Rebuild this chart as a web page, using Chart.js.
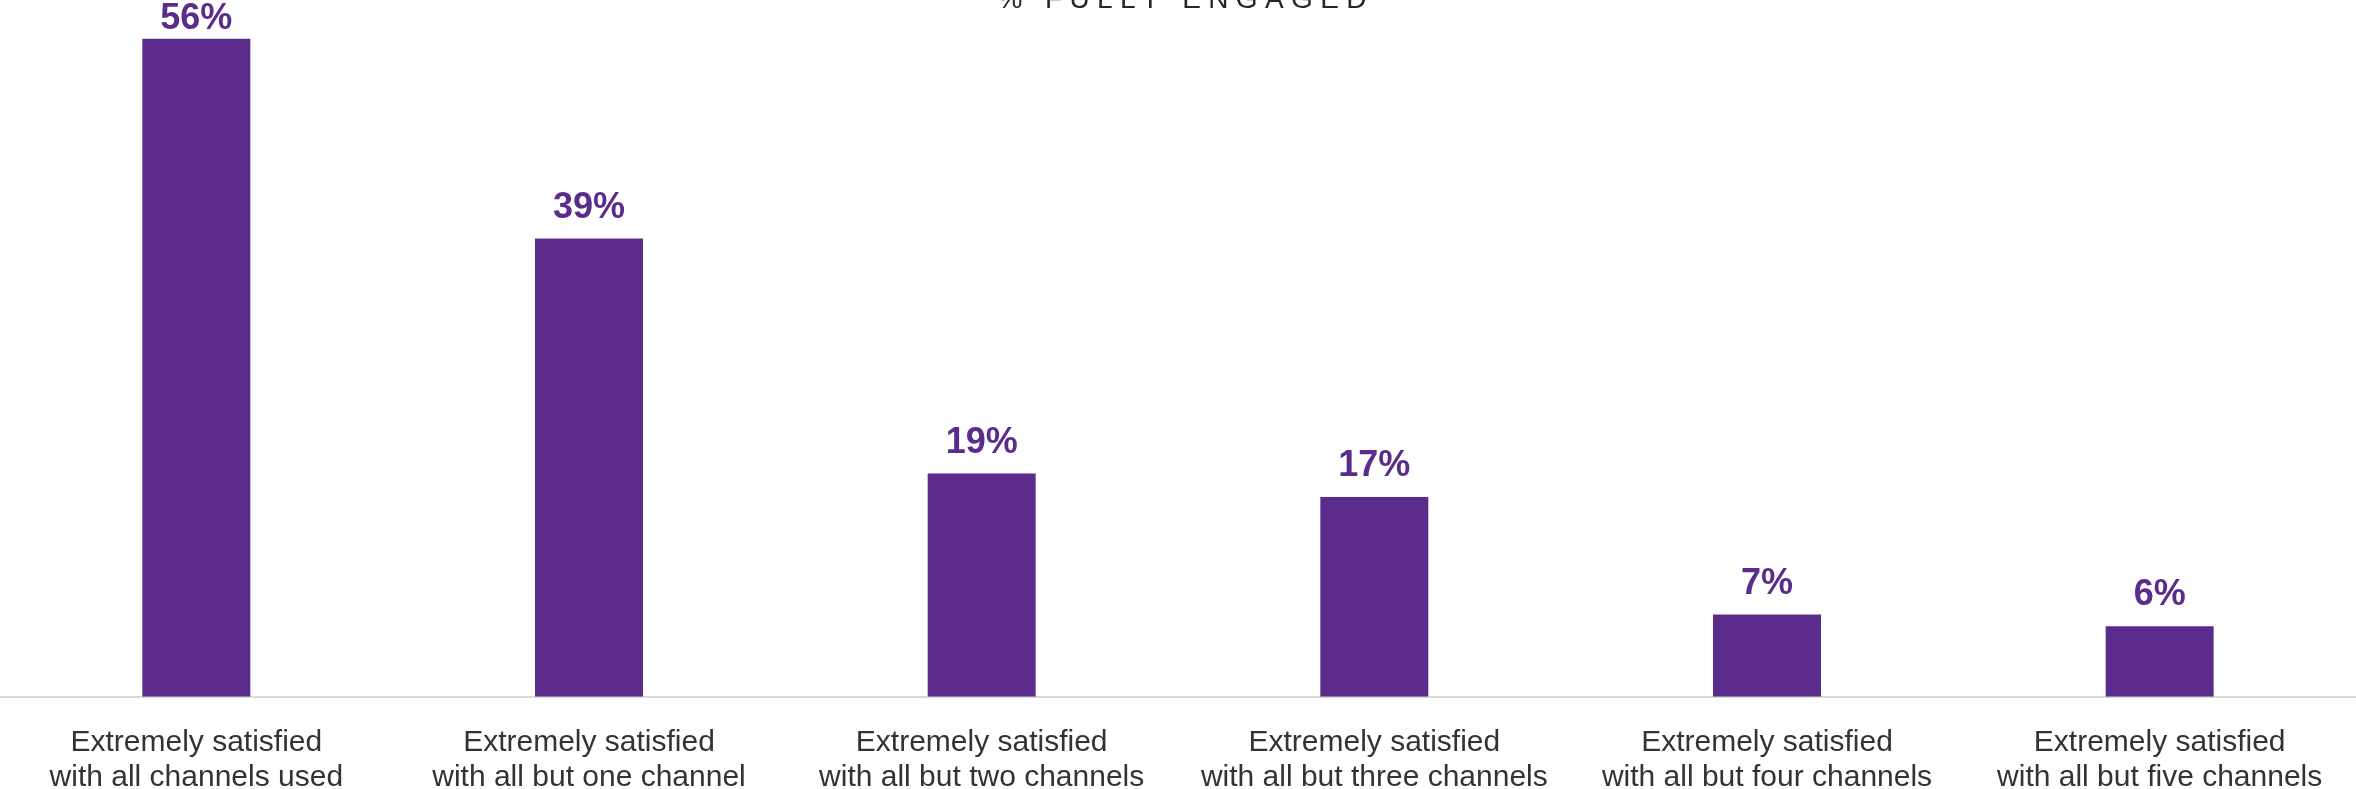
<!DOCTYPE html>
<html>
<head>
<meta charset="utf-8">
<script src="https://cdn.jsdelivr.net/npm/chart.js@4/dist/chart.umd.min.js"></script>
<style>
  html, body { margin: 0; padding: 0; background: #fff; overflow: hidden; }
  /* canvas is a bit taller than the window: the last label line runs off the bottom like in the source */
  #wrap { position: relative; width: 2356px; height: 823px; }
</style>
</head>
<body>
<div id="wrap"><canvas id="engagedChart"></canvas></div>
<script>
// Categories (two-line labels)
const categories = [
    ['Extremely satisfied', 'with all channels used'],
    ['Extremely satisfied', 'with all but one channel'],
    ['Extremely satisfied', 'with all but two channels'],
    ['Extremely satisfied', 'with all but three channels'],
    ['Extremely satisfied', 'with all but four channels'],
    ['Extremely satisfied', 'with all but five channels']
];
// % fully engaged
const engaged = [56, 39, 19, 17, 7, 6];
const chartTitle = '% FULLY ENGAGED';

const purple = '#5b2c8b';

// draws the value above each bar (kept inside the page at the top)
const valueLabels = {
    id: 'valueLabels',
    afterDatasetsDraw(chart) {
        const ctx = chart.ctx;
        const meta = chart.getDatasetMeta(0);
        ctx.save();
        ctx.font = 'bold 36px "Liberation Sans", Arial, sans-serif';
        ctx.fillStyle = purple;
        ctx.textAlign = 'center';
        ctx.textBaseline = 'alphabetic';
        meta.data.forEach((bar, i) => {
            let y = Math.max(bar.y - 21, 29);
            ctx.fillText(engaged[i] + '%', bar.x, y);
        });
        ctx.restore();
    }
};

// title sits mostly above the page edge
const topTitle = {
    id: 'topTitle',
    afterDraw(chart) {
        const ctx = chart.ctx;
        const ls = 7.4;
        ctx.save();
        ctx.font = '28px "Liberation Sans", Arial, sans-serif';
        ctx.letterSpacing = ls + 'px';
        ctx.fillStyle = '#262626';
        ctx.textAlign = 'left';
        ctx.textBaseline = 'alphabetic';
        let w = ctx.measureText(chartTitle).width - ls;
        let cx = (chart.chartArea.left + chart.chartArea.right) / 2 + 4;
        ctx.fillText(chartTitle, cx - w / 2, 8);
        ctx.restore();
    }
};

let ctx = document.getElementById('engagedChart').getContext('2d');
let chart = new Chart(ctx, {
    type: 'bar',
    data: {
        labels: categories,
        datasets: [{
            data: engaged,
            backgroundColor: purple,
            borderWidth: 0,
            categoryPercentage: 1.0,
            barPercentage: 0.275
        }]
    },
    options: {
        responsive: true,
        maintainAspectRatio: false,
        animation: false,
        layout: { padding: 0 },
        plugins: {
            legend: { display: false },
            title: { display: false },
            tooltip: { enabled: false }
        },
        scales: {
            x: {
                grid: { display: false, drawTicks: false },
                border: { display: true, color: '#d9d9d9', width: 2 },
                ticks: {
                    color: '#333333',
                    padding: 28,
                    maxRotation: 0,
                    autoSkip: false,
                    font: { family: '"Liberation Sans", Arial, sans-serif', size: 30, lineHeight: 1.17 }
                }
            },
            y: {
                display: false,
                min: 0,
                max: 59.3
            }
        }
    },
    plugins: [valueLabels, topTitle]
});
</script>
</body>
</html>
